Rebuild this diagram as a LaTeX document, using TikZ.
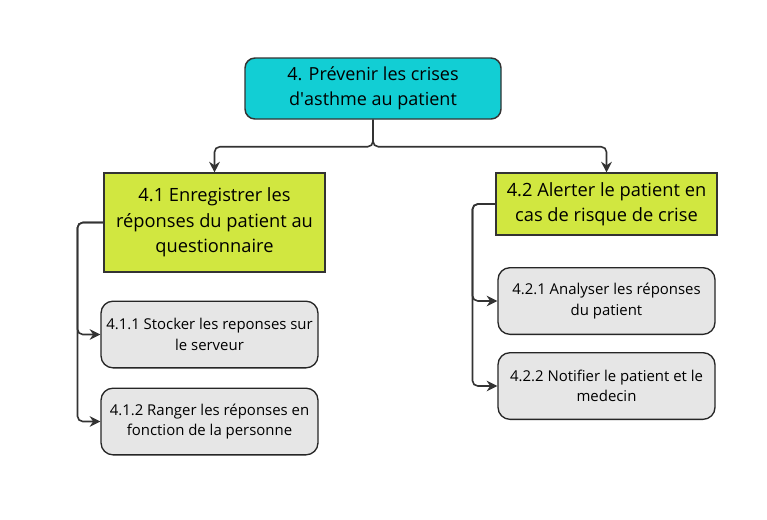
\documentclass[tikz,border=0pt]{standalone}
\usepackage{fontspec}
\setmainfont{Open Sans}
\usetikzlibrary{arrows.meta}

\definecolor{topcyan}{RGB}{18,206,212}
\definecolor{subgreen}{RGB}{209,231,64}
\definecolor{leafgray}{RGB}{230,230,230}
\definecolor{linegray}{RGB}{51,51,51}

\begin{document}
\begin{tikzpicture}[
            x=0.75pt, y=-0.75pt,
            racine/.style={
                rectangle,
                draw=linegray,
                fill=topcyan,
                line width=1.1pt,
                rounded corners=7.5pt,
                minimum width=192pt,
                minimum height=45.75pt,
                align=center,
                font=\fontsize{13.5}{18.5}\selectfont
            },
            sousfonc/.style={
                rectangle,
                draw=linegray,
                fill=subgreen,
                line width=0.8pt,
                minimum width=165.75pt,
                align=center,
                font=\fontsize{13.7}{19}\selectfont
            },
            feuille/.style={
                rectangle,
                draw=black!85,
                fill=leafgray,
                line width=1pt,
                rounded corners=9pt,
                minimum width=162.75pt,
                minimum height=50pt,
                align=center,
                inner sep=1pt,
                font=\fontsize{11.2}{15.5}\selectfont
            },
            lien/.style={
                draw=linegray,
                line width=1.2pt,
                rounded corners=4pt,
                -{Stealth[length=8pt,width=8pt]}
            }
        ]

        % fond
        \fill[white] (0,0) rectangle (767,519);
        \useasboundingbox (0,0) rectangle (767,519);

        % nodes
        \node[racine] (f4) at (373, 88.5) {4. Prévenir les crises\\d\textquotesingle asthme au patient};
        \node[sousfonc, minimum height=74.25pt] (f41) at (214.5, 222.5) {4.1 Enregistrer les\\réponses du patient au\\questionnaire};
        \node[sousfonc, minimum height=46.5pt] (f42) at (606.5, 204) {4.2 Alerter le patient en\\cas de risque de crise};
        \node[feuille] (f411) at (209.5, 334.5) {4.1.1 Stocker les reponses sur\\le serveur};
        \node[feuille] (f412) at (209.5, 421.5) {4.1.2 Ranger les réponses en\\fonction de la personne};
        \node[feuille] (f421) at (606.5, 301) {4.2.1 Analyser les réponses\\du patient};
        \node[feuille] (f422) at (606.5, 386) {4.2.2 Notifier le patient et le\\medecin};

        % lines
        \draw[lien] (f4.south) -- ++(0, 27) -| (f41.north);
        \draw[lien] (f4.south) -- ++(0, 27) -| (f42.north);
        \draw[lien] (f41.west) -- ++(-26, 0) |- (f411.west);
        \draw[lien] (f41.west) -- ++(-26, 0) |- (f412.west);
        \draw[lien] (f42.west) -- ++(-23, 0) |- (f421.west);
        \draw[lien] (f42.west) -- ++(-23, 0) |- (f422.west);
    \end{tikzpicture}
\end{document}
